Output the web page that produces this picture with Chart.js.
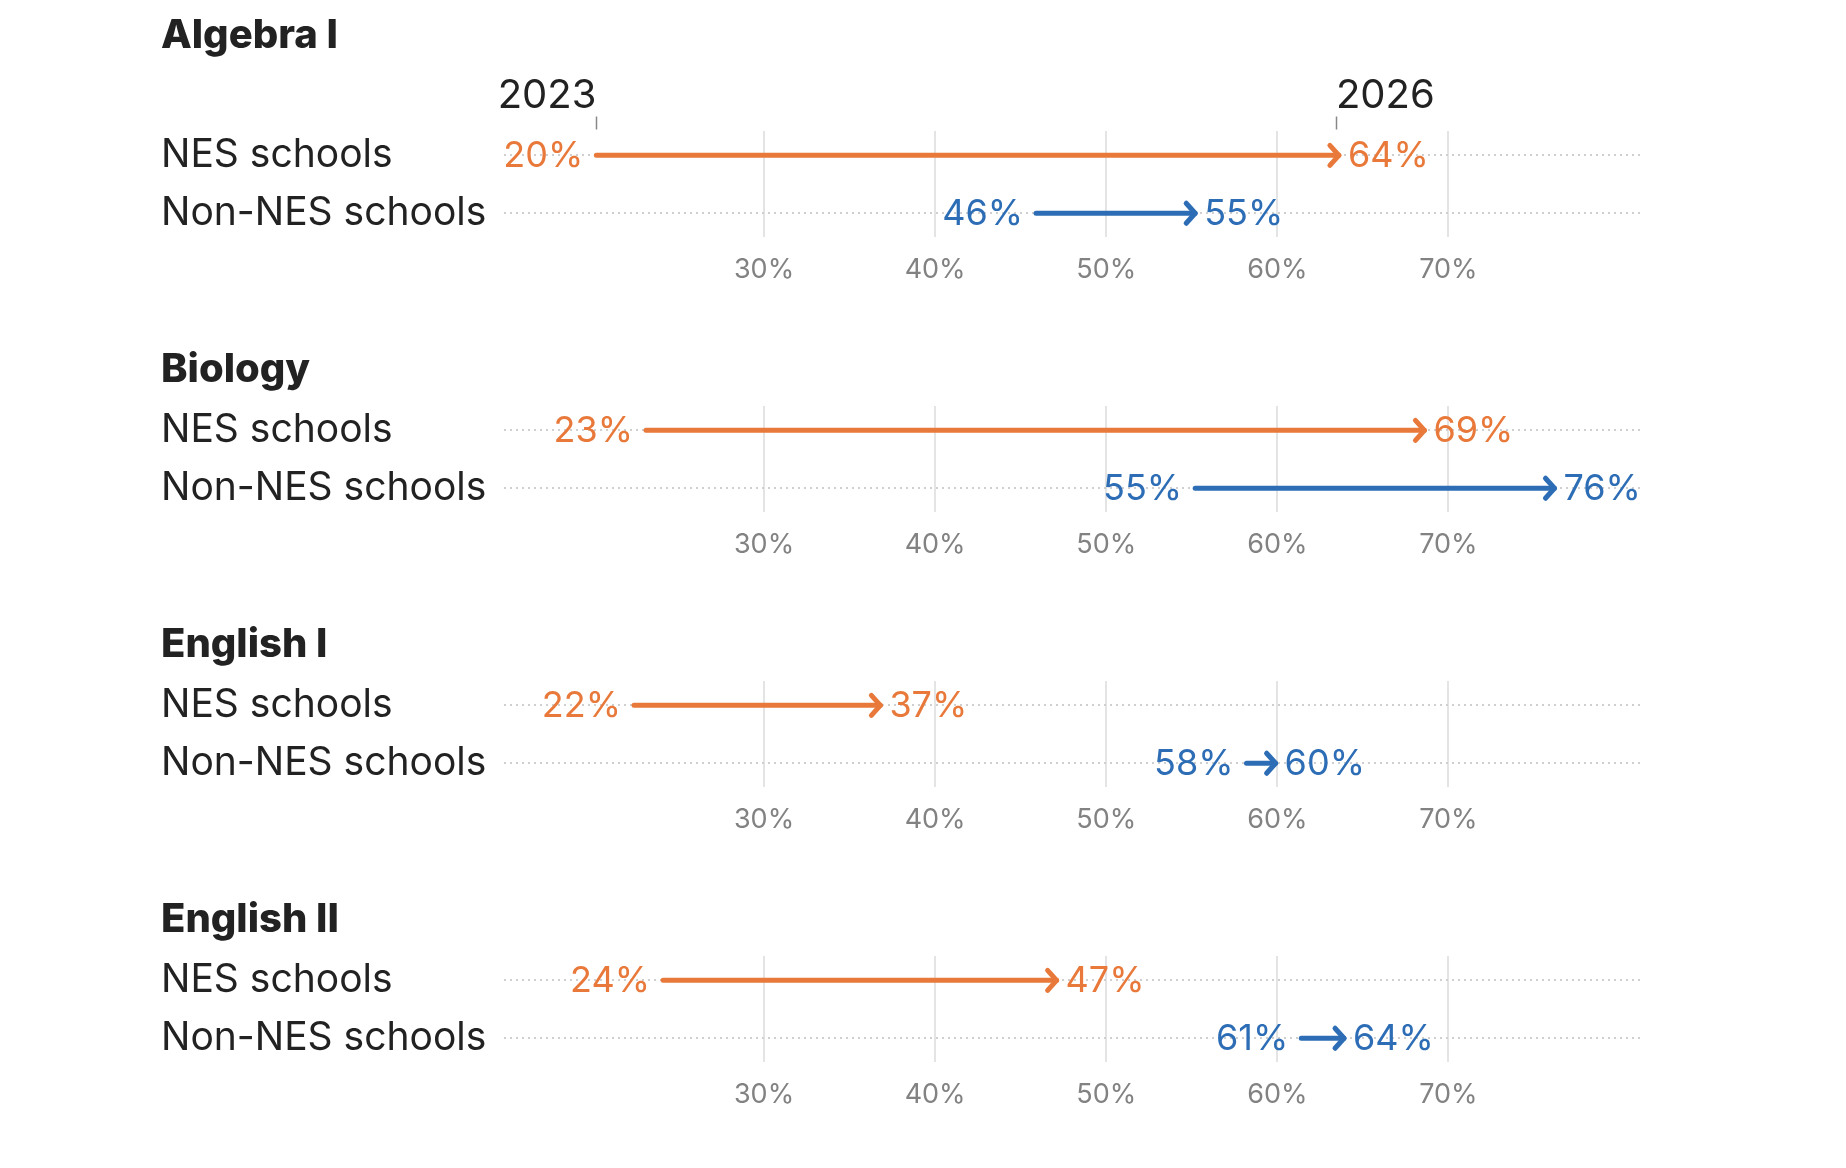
<!DOCTYPE html>
<html><head><meta charset="utf-8">
<script src="https://cdn.jsdelivr.net/npm/chart.js@4.4.1/dist/chart.umd.min.js"></script>
<style>
html,body{margin:0;padding:0;background:#fff;}
#wrap{position:relative;width:1846px;height:1168px;overflow:hidden;}
.panel{position:absolute;left:0;width:1846px;height:320px;}
</style>
</head><body>
<div id="wrap"></div>
<script>
// ---- data ----
const subjects = ['Algebra I', 'Biology', 'English I', 'English II'];
const rowLabels = ['NES schools', 'Non-NES schools'];
const nes2023 = [20.2, 23.1, 22.4, 24.1];
const nes2026 = [63.6, 68.6, 36.8, 47.1];
const nonNes2023 = [45.9, 55.2, 58.2, 61.4];
const nonNes2026 = [55.2, 76.2, 59.9, 63.9];
const xTickValues = [30, 40, 50, 60, 70];
const yearLabels = ['2023', '2026'];

const ORANGE = '#e8793a';
const BLUE = '#2d6db5';
const FONT = 'Inter';
const CANVAS_H = 320;
const AREA_BOTTOM = 237;

Chart.defaults.font.family = FONT;
Chart.defaults.animation = false;

const arrowPlugin = {
  id: 'arrows',
  afterDatasetsDraw(chart, args, opts) {
    const ctx = chart.ctx;
    const xs = chart.scales.x, ys = chart.scales.y;
    ctx.save();
    chart.data.datasets.forEach((ds) => {
      const a = ds.data[0], b = ds.data[1];
      const x0 = xs.getPixelForValue(a.x), x1 = xs.getPixelForValue(b.x);
      const y = ys.getPixelForValue(a.y);
      // arrow head
      ctx.strokeStyle = ds.borderColor;
      ctx.lineWidth = 5;
      ctx.lineCap = 'round';
      ctx.lineJoin = 'round';
      ctx.beginPath();
      ctx.moveTo(x1 - 9, y - 10);
      ctx.lineTo(x1, y);
      ctx.lineTo(x1 - 9, y + 10);
      ctx.stroke();
      // labels
      ctx.fillStyle = ds.borderColor;
      ctx.font = '36px ' + FONT;
      ctx.textBaseline = 'middle';
      ctx.textAlign = 'right';
      ctx.fillText(Math.round(a.x) + '%', x0 - 13, y + 1);
      ctx.textAlign = 'left';
      ctx.fillText(Math.round(b.x) + '%', x1 + 9, y + 1);
    });
    // panel title
    ctx.fillStyle = '#222';
    ctx.font = '800 40px ' + FONT;
    ctx.textAlign = 'left';
    ctx.textBaseline = 'alphabetic';
    ctx.fillText(opts.title, 161, opts.titleBaseline);
    // year header
    if (opts.years) {
      const first = chart.data.datasets[0];
      const xa = xs.getPixelForValue(first.data[0].x);
      const xb = xs.getPixelForValue(first.data[1].x) - 3;
      ctx.font = '40px ' + FONT;
      ctx.fillStyle = '#222';
      ctx.textAlign = 'right';
      ctx.fillText(yearLabels[0], xa, 107.5);
      ctx.textAlign = 'left';
      ctx.fillText(yearLabels[1], xb, 107.5);
      ctx.strokeStyle = '#888';
      ctx.lineWidth = 1.5;
      ctx.lineCap = 'butt';
      [xa, xb].forEach(px => {
        ctx.beginPath();
        ctx.moveTo(Math.round(px) + 0.5, 116.5);
        ctx.lineTo(Math.round(px) + 0.5, 129.5);
        ctx.stroke();
      });
    }
    ctx.restore();
  }
};

const wrap = document.getElementById('wrap');
subjects.forEach((subj, i) => {
  const div = document.createElement('div');
  div.className = 'panel';
  div.style.top = Math.round(i * 275) + 'px';
  const cv = document.createElement('canvas');
  cv.width = 1846; cv.height = CANVAS_H;
  cv.style.width = '1846px'; cv.style.height = CANVAS_H + 'px';
  div.appendChild(cv);
  wrap.appendChild(div);

  new Chart(cv, {
    type: 'line',
    data: {
      datasets: [
        { label: rowLabels[0], data: [{ x: nes2023[i], y: 0 }, { x: nes2026[i], y: 0 }],
          borderColor: ORANGE, borderWidth: 5, borderCapStyle: 'round', pointRadius: 0, fill: false },
        { label: rowLabels[1], data: [{ x: nonNes2023[i], y: 1 }, { x: nonNes2026[i], y: 1 }],
          borderColor: BLUE, borderWidth: 5, borderCapStyle: 'round', pointRadius: 0, fill: false }
      ]
    },
    options: {
      responsive: false,
      devicePixelRatio: 1,
      animation: false,
      layout: { padding: { left: 161, right: 206, top: 131, bottom: 0 } },
      plugins: {
        legend: { display: false },
        tooltip: { enabled: false },
        arrows: { title: subj, titleBaseline: i === 0 ? 47.5 : 106.5, years: i === 0 }
      },
      scales: {
        x: {
          type: 'linear',
          min: 14.8, max: 81.2,
          afterBuildTicks: (s) => { s.ticks = xTickValues.map(v => ({ value: v })); },
          afterFit: (s) => { s.height = CANVAS_H - AREA_BOTTOM; },
          grid: { color: '#e4e4e4', lineWidth: 2, drawTicks: false },
          border: { display: false },
          ticks: { color: '#828282', font: { size: 27, family: FONT }, padding: 17,
                   callback: (v) => v + '%' }
        },
        y: {
          type: 'linear',
          reverse: true,
          min: -0.42, max: 1.41,
          afterBuildTicks: (s) => { s.ticks = rowLabels.map((_, k) => ({ value: k })); },
          afterFit: (s) => { s.width = 343; },
          grid: { color: '#cfcfcf', lineWidth: 2, drawTicks: false },
          border: { display: false, dash: [2, 4] },
          ticks: { color: '#222', font: { size: 39, family: FONT }, crossAlign: 'far', padding: 0,
                   callback: (v) => rowLabels[v] }
        }
      }
    },
    plugins: [arrowPlugin]
  });
});
</script>
</body></html>
